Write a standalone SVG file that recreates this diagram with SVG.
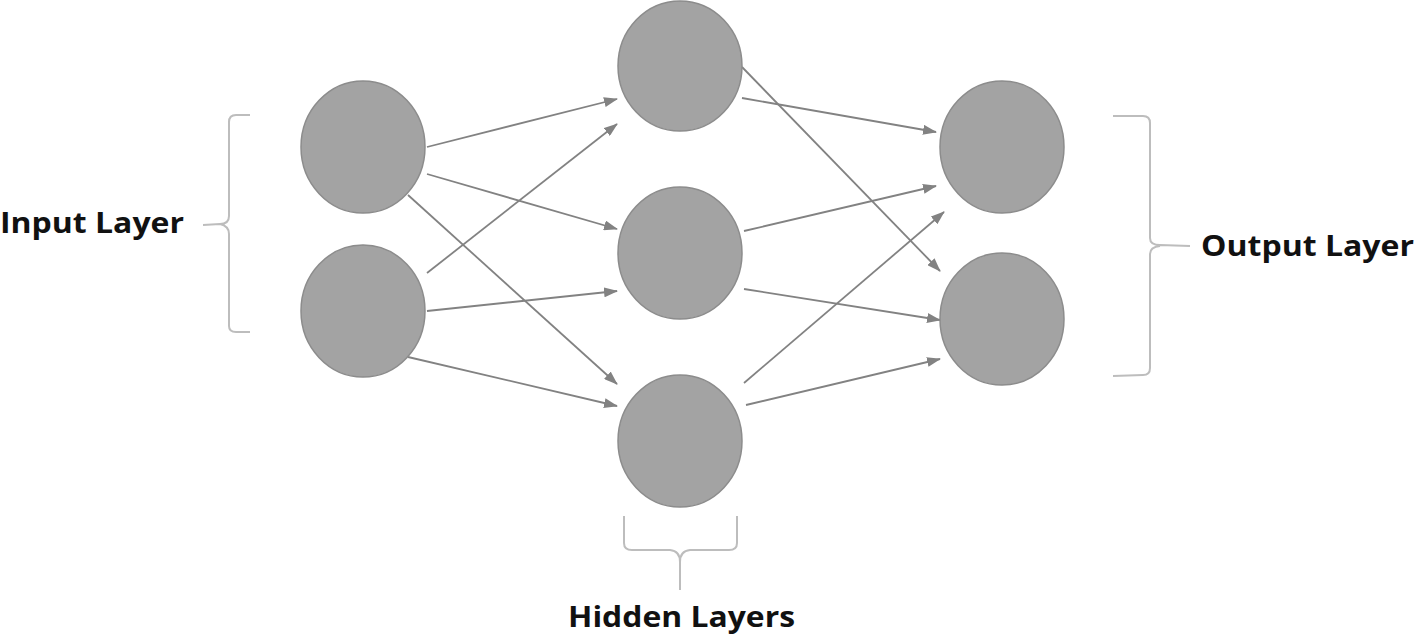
<svg xmlns="http://www.w3.org/2000/svg" width="1416" height="636" viewBox="0 0 1416 636">
<style>
.node{fill:#a3a3a3;stroke:#8c8c8c;stroke-width:1.5}
.edge{stroke:#828282;stroke-width:1.8;fill:none;marker-end:url(#ah)}
.brace{stroke:#bdbdbd;stroke-width:2;fill:none}
.lbl{font-family:"Open Sans","Liberation Sans",sans-serif;font-weight:bold;font-size:29px;fill:#111}
</style>
<defs>
<marker id="ah" viewBox="0 0 14 10" refX="13" refY="5" markerWidth="14" markerHeight="10" markerUnits="userSpaceOnUse" orient="auto">
<path d="M0,0 L14,5 L0,10 Z" fill="#828282"/>
</marker>
</defs>
<rect width="1416" height="636" fill="#fff"/>
<g id="connectors">
<line class="edge" x1="427" y1="147" x2="617" y2="99"/>
<line class="edge" x1="427" y1="174" x2="617" y2="229"/>
<line class="edge" x1="408" y1="195" x2="617" y2="384"/>
<line class="edge" x1="427" y1="273" x2="617" y2="124"/>
<line class="edge" x1="427" y1="311" x2="617" y2="291"/>
<line class="edge" x1="408" y1="357" x2="617" y2="406"/>
<line class="edge" x1="742" y1="67" x2="940" y2="271"/>
<line class="edge" x1="742" y1="98" x2="936" y2="132"/>
<line class="edge" x1="744" y1="231" x2="936" y2="186"/>
<line class="edge" x1="744" y1="289" x2="940" y2="320"/>
<line class="edge" x1="744" y1="383" x2="944" y2="212"/>
<line class="edge" x1="746" y1="405" x2="940" y2="359"/>
</g>
<g id="input1"><ellipse class="node" cx="363" cy="147" rx="62" ry="66"/></g>
<g id="input2"><ellipse class="node" cx="363" cy="311" rx="62" ry="66"/></g>
<g id="hidden1"><ellipse class="node" cx="680" cy="66" rx="62" ry="65"/></g>
<g id="hidden2"><ellipse class="node" cx="680" cy="253" rx="62" ry="66"/></g>
<g id="hidden3"><ellipse class="node" cx="680" cy="441" rx="62" ry="66"/></g>
<g id="output1"><ellipse class="node" cx="1002" cy="147" rx="62" ry="66"/></g>
<g id="output2"><ellipse class="node" cx="1002" cy="319" rx="62" ry="66"/></g>
<g id="input-label">
<path class="brace" d="M250,115 L236,115 Q229,115 229,122 L229,216 Q229,224 220,224 L203,225 M220,224 Q229,226 229,234 L229,326 Q229,332 236,332 L250,332"/>
<text class="lbl" x="0" y="233" textLength="184" lengthAdjust="spacingAndGlyphs">Input Layer</text>
</g>
<g id="output-label">
<path class="brace" d="M1113,116 L1143,116 Q1150,116 1150,123 L1150,238 Q1150,245 1160,245 L1190,246 M1160,246 Q1150,247 1150,254 L1150,368 Q1150,375 1143,375 L1113,376"/>
<text class="lbl" x="1201" y="256" textLength="213" lengthAdjust="spacingAndGlyphs">Output Layer</text>
</g>
<g id="hidden-label">
<path class="brace" d="M624,516 L624,543 Q624,550 632,550 L670,550 Q680,551 680,562 L680,590 M680,562 Q680,551 690,550 L729,550 Q737,550 737,543 L737,516"/>
<text class="lbl" x="568" y="627" textLength="227" lengthAdjust="spacingAndGlyphs">Hidden Layers</text>
</g>
</svg>
